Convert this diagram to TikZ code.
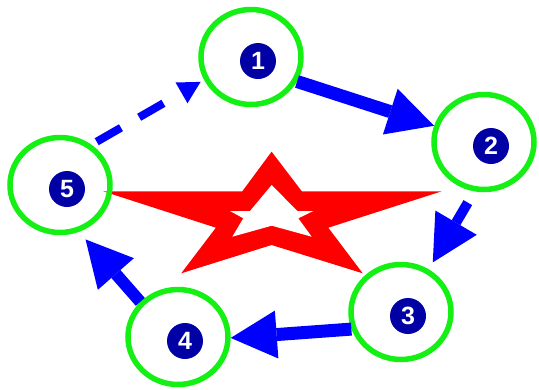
\documentclass[tikz,border=0pt]{standalone}
\usepackage{fontspec}
\setsansfont{Liberation Sans}
\usetikzlibrary{arrows.meta,shapes.geometric}
\definecolor{ringgreen}{RGB}{20,240,20}
\definecolor{arrowblue}{RGB}{0,0,255}
\definecolor{badgeblue}{RGB}{0,0,165}
\definecolor{starred}{RGB}{255,0,0}

\begin{document}
\begin{tikzpicture}[
  x=1pt, y=-1pt,
  ring/.style={ellipse, draw=ringgreen, line width=5.5pt, minimum width=100pt,
               minimum height=95pt, inner sep=0pt},
  badge/.style={circle, fill=badgeblue, text=white, minimum size=36pt, inner sep=0pt,
                font=\sffamily\bfseries\fontsize{25}{25}\selectfont},
  arr/.style={draw=arrowblue, line width=13pt,
              -{Triangle[length=46pt, width=48pt, line width=0pt]}},
  dasharr/.style={draw=arrowblue, line width=8pt, dash pattern=on 28pt off 21pt,
                  -{Triangle[length=22pt, width=24pt, line width=0pt]}}
]
\useasboundingbox (0,0) rectangle (539,389);
% --- Stern ---
\fill[starred] (271.6,151.7) -- (301.8,191.3) -- (441.7,191.3) -- (328.3,227.7)
  -- (362.7,273.3) -- (271.6,245) -- (181.2,273.3) -- (215.9,227.7)
  -- (103.1,191.3) -- (242.3,191.3) -- cycle;
\fill[white] (271.7,185) -- (297.3,211) -- (313.3,211) -- (298.3,218.3)
  -- (311.7,236.7) -- (271.7,225.7) -- (232.3,236.7) -- (243.3,218.3)
  -- (230,211) -- (250,211) -- cycle;
% --- Kreise ---
\node[ring] (n1) at (251,57)  {};
\node[ring] (n2) at (484,142) {};
\node[ring] (n3) at (401,312) {};
\node[ring] (n4) at (178,337) {};
\node[ring] (n5) at (60,185)  {};
\node[badge] (b1) at ([shift={(7,4)}]n1.center) {1};
\node[badge] (b2) at ([shift={(7,4)}]n2.center) {2};
\node[badge] (b3) at ([shift={(7,4)}]n3.center) {3};
\node[badge] (b4) at ([shift={(7,4)}]n4.center) {4};
\node[badge] (b5) at ([shift={(7,4)}]n5.center) {5};
% --- Pfeile ---
\draw[arr] (n1.-28) -- (n2.162);
\draw[arr, line width=10pt, shorten <=13pt, shorten >=8pt] (n2.259) -- (n3.57);
\draw[arr] (n3.199) -- (n4.-1);
\draw[arr, line width=12pt, shorten >=10pt] (n4.137) -- (n5.-68);
\draw[dasharr, shorten <=6pt, shorten >=4pt] (n5.52) -- (n1.206);
\end{tikzpicture}
\end{document}
